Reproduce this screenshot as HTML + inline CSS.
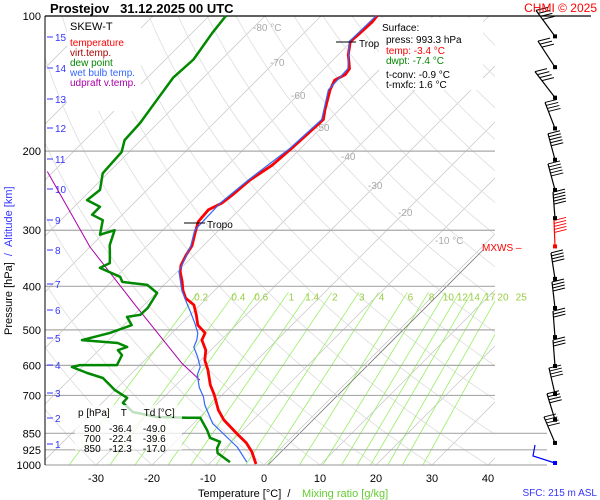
<!DOCTYPE html>
<html><head><meta charset="utf-8"><style>
html,body{margin:0;padding:0;background:#fff;}
svg{display:block;font-family:"Liberation Sans",sans-serif;}
</style></head><body>
<svg id="c" width="600" height="500" viewBox="0 0 600 500">
<rect x="0" y="0" width="600" height="500" fill="#fff"/>
<g id="grid"></g>
<g id="series"></g>
<g id="barbs"></g>
<g id="txt">
<text x="50" y="13" font-size="13" font-weight="bold">Prostejov&#160;&#160;&#160;31.12.2025 00 UTC</text>
<text x="597" y="12" font-size="12" fill="#f00" text-anchor="end">CHMI © 2025</text>
<rect x="67" y="17" width="74" height="94" fill="#fff"/>
<text x="70" y="30" font-size="11">SKEW-T</text>
<text x="70" y="46" font-size="10" fill="#f00">temperature</text>
<text x="70" y="56" font-size="10" fill="#a00">virt.temp.</text>
<text x="70" y="66" font-size="10" fill="#080">dew point</text>
<text x="70" y="76" font-size="10" fill="#36f">wet bulb temp.</text>
<text x="70" y="86" font-size="10" fill="#a0a">udpraft v.temp.</text>
<rect x="379" y="18" width="104" height="72" fill="#fff"/>
<text x="382" y="31" font-size="10">Surface:</text>
<text x="386" y="43" font-size="10">press: 993.3 hPa</text>
<text x="386" y="54" font-size="10" fill="#f00">temp: -3.4 °C</text>
<text x="386" y="64" font-size="10" fill="#080">dwpt: -7.4 °C</text>
<text x="386" y="78" font-size="10">t-conv: -0.9 °C</text>
<text x="386" y="88" font-size="10">t-mxfc: 1.6 °C</text>
<rect x="75" y="405" width="107" height="45" fill="#fff" fill-opacity="0.75"/>
<text x="78" y="416" font-size="10">p [hPa]&#160;&#160;&#160;&#160;T&#160;&#160;&#160;&#160;&#160;&#160;Td [°C]</text>
<text x="84" y="432" font-size="10">500&#160;&#160;&#160;-36.4&#160;&#160;&#160;&#160;-49.0</text>
<text x="84" y="442" font-size="10">700&#160;&#160;&#160;-22.4&#160;&#160;&#160;&#160;-39.6</text>
<text x="84" y="452" font-size="10">850&#160;&#160;&#160;-12.3&#160;&#160;&#160;&#160;-17.0</text>
<text x="482" y="251" font-size="10" fill="#f00">MXWS –</text>
<line x1="336" y1="42" x2="356" y2="42" stroke="#000"/>
<text x="359" y="47" font-size="10">Trop</text>
<line x1="184" y1="223" x2="205" y2="223" stroke="#000"/>
<text x="207" y="228" font-size="10">Tropo</text>
<text x="198" y="497" font-size="11">Temperature [°C]&#160;&#160;/</text>
<text x="302" y="497" font-size="11" fill="#6c3">Mixing ratio [g/kg]</text>
<text x="597" y="496" font-size="10" fill="#33f" text-anchor="end">SFC: 215 m ASL</text>
<text transform="translate(12,335) rotate(-90)" font-size="11">Pressure [hPa]&#160;&#160;<tspan fill="#33f">/&#160;&#160;Altitude [km]</tspan></text>
</g>
</svg>
<script>
// ---- data ----
const tempP = [995,935,893,857,794,754,698,663,614,584,555,527,508,488,463,440,425,408,391,371,359,341,325,300,287,270,261,251,232,215,197,181,170,162,146,139,135,131,122,114,110,103,100];
const tempT = [-1.6,-4.5,-7.1,-10.0,-15.2,-18.0,-21.4,-23.9,-27.0,-29.3,-30.9,-33.4,-34.1,-36.8,-38.9,-41.1,-43.8,-45.7,-47.3,-49.5,-50.5,-51.4,-52.0,-54.1,-55.2,-55.5,-54.3,-53.9,-53.4,-52.1,-51.6,-51.3,-51.1,-52.5,-55.2,-56.1,-55.2,-55.5,-58.2,-60.2,-60.0,-59.8,-60.0];
const dewP = [985,941,917,888,870,836,785,785,782,762,727,709,681,640,624,605,599,599,569,555,546,535,527,508,488,468,463,447,414,397,391,381,364,355,337,324,300,307,285,277,266,257,244,224,201,189,173,154,137,125,109,100];
const dewT = [-6.6,-10.4,-11.4,-12.0,-14.5,-16.4,-19.8,-22.1,-27.7,-32.9,-36.3,-36.4,-40.0,-44.3,-48.0,-51.8,-50.7,-44.1,-45.0,-46.6,-45.5,-47.9,-54.8,-51.1,-48.6,-50.9,-48.9,-48.8,-49.8,-53.0,-58.0,-59.3,-64.5,-63.6,-65.4,-66.8,-68.6,-70.4,-72.5,-75.4,-75.4,-78.9,-78.4,-80.9,-81.3,-82.9,-83.2,-84.3,-85.4,-85.0,-86.4,-87.0];
const wetP = [985,912,808,735,705,672,630,605,575,546,527,508,483,452,436,408,371,325,300,261,232,197,170,146,131,114,100];
const wetT = [-3.6,-8.0,-16.6,-21.3,-23.0,-25.4,-28.0,-28.9,-31.1,-33.6,-34.3,-35.4,-37.7,-40.9,-42.7,-45.9,-49.7,-52.2,-54.3,-54.6,-53.7,-51.9,-51.4,-55.5,-55.8,-60.4,-60.2];
const updP = [222,327,440,593,647];
const updT = [-91.1,-70.0,-51.6,-32.9,-26.6];
const isobars = [100,200,300,400,500,600,700,850,925,1000];
const xTicks = [-30,-20,-10,0,10,20,30,40];
const mixRatios = [0.2,0.4,0.6,1,1.4,2,3,4,6,8,10,12,14,17,20,25];
const altKm = [1,2,3,4,5,6,7,8,9,10,11,12,13,14,15];
const altY = [444,418,393,365,338,310,284,250,220,189,159,128,99,68,37];
const barbP = [893,793,695,602,519,447,385,326,282,244,209,178,152,130,111];
const barbN = [4,4,4,3,3,4,4,5,5,5,5,4,4,3,4];
const barbDx = [-11,-8,-6,-2,-2,-3,-4,-1,-2,-7,-7,-10,-20,-17,-19];
// ---- scales ----
const L=45,R=495,T0=16,B=465;
function yP(p){return T0+(B-T0)*Math.log10(p/100);}
function xT(t,p){return 264+5.6*t+(B-yP(p));}
const NS="http://www.w3.org/2000/svg";
function mk(tag,attrs,parent){const e=document.createElementNS(NS,tag);for(const k in attrs)e.setAttribute(k,attrs[k]);parent.appendChild(e);return e;}
const grid=document.getElementById('grid'),ser=document.getElementById('series'),bg=document.getElementById('barbs');
const defs=mk('defs',{},grid);const cp=mk('clipPath',{id:'clip'},defs);mk('rect',{x:L,y:T0,width:R-L,height:B-T0},cp);
const gc=mk('g',{'clip-path':'url(#clip)'},grid);
for(let t=-160;t<=50;t+=10){
  const l=mk('line',{x1:xT(t,1000),y1:B,x2:xT(t,100),y2:T0,stroke:'#ccc','stroke-width':0.8},gc);
  
  
}
for(let th=-40;th<=260;th+=10){
  let d='';for(let p=1000;p>=100;p-=10){const t=(th+273.15)*Math.pow(p/1000,0.286)-273.15;d+=(d?'L':'M')+xT(t,p).toFixed(1)+','+yP(p).toFixed(1);}
  const e=mk('path',{d:d,fill:'none',stroke:'#ddd','stroke-width':0.8},gc);
  
  
}
function tdw(w,p){const e=w*p/(622+w);const a=Math.log(e/6.112);return 243.5*a/(17.67-a);}
mixRatios.forEach(w=>{
  const e=mk('line',{x1:xT(tdw(w,1000),1000),y1:B,x2:xT(tdw(w,400),400),y2:yP(400)+6,stroke:'#9e6','stroke-width':0.8},gc);
  
  
  const tx=mk('text',{x:xT(tdw(w,400),400)+3,y:yP(400)+14,'font-size':10,fill:'#9c4','text-anchor':'middle'},grid);tx.textContent=w;
  
  
});
{const e=mk('line',{x1:xT(0,1000)+4,y1:B,x2:483,y2:250,stroke:'#777','stroke-width':0.8},grid);

}
[[-80,'-80 °C',265,31],[-70,'-70',282,66],[-60,'-60',303,99],[-50,'-50',327,131],[-40,'-40',353,160],[-30,'-30',380,189],[-20,'-20',410,216],[-10,'-10 °C',447,244]].forEach(a=>{
  const t=mk('text',{x:a[2]-12,y:a[3],'font-size':10,fill:'#aaa'},grid);t.textContent=a[1];
  
  
});
isobars.forEach(p=>{
  const xe=p===100?591:(p>=850?547:R);
  const l=mk('line',{x1:L,y1:yP(p),x2:xe,y2:yP(p),stroke:p===100?'#000':'#aaa','stroke-width':1.2},grid);
  
  
  const t=mk('text',{x:41,y:yP(p)+4,'font-size':11,'text-anchor':'end'},grid);t.textContent=p;
  
  
});
{const a=mk('line',{x1:L,y1:T0,x2:L,y2:B,stroke:'#000','stroke-width':1},grid);

}
xTicks.forEach(t=>{
  const tx=mk('text',{x:xT(t,1000),y:482,'font-size':11,'text-anchor':'middle'},grid);tx.textContent=t;
  
  
});
altKm.forEach((k,i)=>{
  const l=mk('line',{x1:47,y1:altY[i],x2:53,y2:altY[i],stroke:'#33f','stroke-width':1},grid);
  
  
  const t=mk('text',{x:55,y:altY[i]+4,'font-size':10,fill:'#33f'},grid);t.textContent=k;
  
  
});
function line(P,Tv,col,w,name){
  let d='';P.forEach((p,i)=>{d+=(i?'L':'M')+xT(Tv[i],p).toFixed(1)+','+yP(p).toFixed(1);});
  const e=mk('path',{d:d,fill:'none',stroke:col,'stroke-width':w,'stroke-linejoin':'round'},ser);
  
  
}
line(updP,updT,'#a0a',1,'updraft-line');
line(dewP,dewT,'#080',2.5,'dew-point-line');
line(tempP,tempT,'#f00',2.8,'temperature-line');
line(wetP,wetT,'#36f',1.2,'wet-bulb-line');
barbP.forEach((p,i)=>{
  const y=yP(p),x=555,tx=x+barbDx[i],ty=y-26;
  const col=(p===326)?'#f00':'#000';
  const s=mk('line',{x1:x,y1:y,x2:tx,y2:ty,stroke:col,'stroke-width':1.2},bg);
  
  
  mk('rect',{x:x-2,y:y-2,width:4,height:4,fill:col},bg);
  const dx=(x-tx)/26;
  for(let k=0;k<barbN[i];k++){const by=ty+k*3;const bx=tx+dx*k*3;mk('line',{x1:bx,y1:by,x2:bx+12,y2:by-3,stroke:col,'stroke-width':1},bg);}
});
{const s=mk('polyline',{points:'555,463 533,456 535,445',fill:'none',stroke:'#00f','stroke-width':1.2},bg);


mk('rect',{x:553,y:461,width:4,height:4,fill:'#00f'},bg);}
</script>
</body></html>
